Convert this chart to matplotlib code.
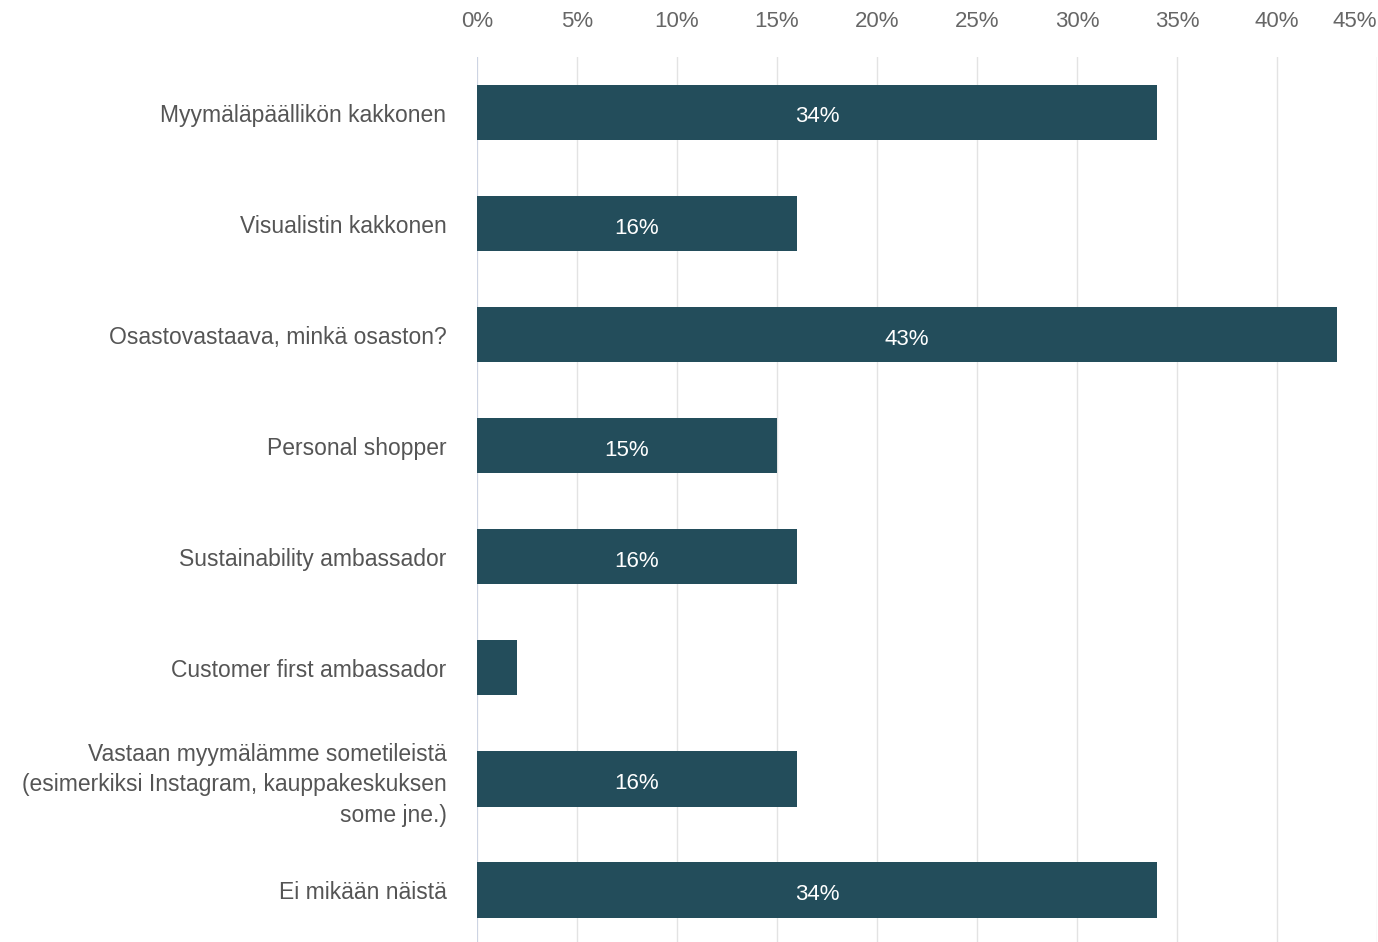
import matplotlib
matplotlib.use("Agg")
import matplotlib.pyplot as plt

plt.rcParams["font.family"] = ["Liberation Sans", "DejaVu Sans"]

# Survey answers (share of respondents, %)
categories = [
    "Myymäläpäällikön kakkonen",
    "Visualistin kakkonen",
    "Osastovastaava, minkä osaston?",
    "Personal shopper",
    "Sustainability ambassador",
    "Customer first ambassador",
    "Vastaan myymälämme sometileistä\n(esimerkiksi Instagram, kauppakeskuksen\nsome jne.)",
    "Ei mikään näistä",
]
values = [34, 16, 43, 15, 16, 2, 16, 34]
show_label = [True, True, True, True, True, False, True, True]
x_ticks = [0, 5, 10, 15, 20, 25, 30, 35, 40, 45]

BAR_COLOR = "#234d5b"
TEXT_COLOR = "#555555"

fig = plt.figure(figsize=(13.78, 9.42), dpi=100)
ax = fig.add_axes([477 / 1378, 0.0, 900 / 1378, 885 / 942])

y = list(range(len(categories)))
bars = ax.barh(y, values, height=0.5, color=BAR_COLOR, zorder=3)

for bar, val, show in zip(bars, values, show_label):
    if show:
        ax.text(bar.get_width() / 2, bar.get_y() + bar.get_height() / 2 + 0.04,
                f"{val}%", ha="center", va="center", color="white", fontsize=16,
                zorder=4)

ax.set_xlim(0, 45)
ax.set_ylim(7.47, -0.5)
ax.set_yticks(y)
ax.set_yticklabels(categories, fontsize=16.5, color=TEXT_COLOR, linespacing=1.4)
ax.tick_params(axis="y", length=0, pad=22)

ax.xaxis.tick_top()
ax.set_xticks(x_ticks)
ax.set_xticklabels([f"{t}%" for t in x_ticks], fontsize=16, color="#666666")
ax.tick_params(axis="x", length=0, pad=18)
ax.get_xticklabels()[-1].set_horizontalalignment("right")

ax.grid(axis="x", color="#e3e3e3", linewidth=1, zorder=0)
ax.axvline(0, color="#c9d1e3", linewidth=1.2, zorder=2)
for side in ["top", "bottom", "left", "right"]:
    ax.spines[side].set_visible(False)

fig.savefig("out.png", dpi=100)
plt.close(fig)
